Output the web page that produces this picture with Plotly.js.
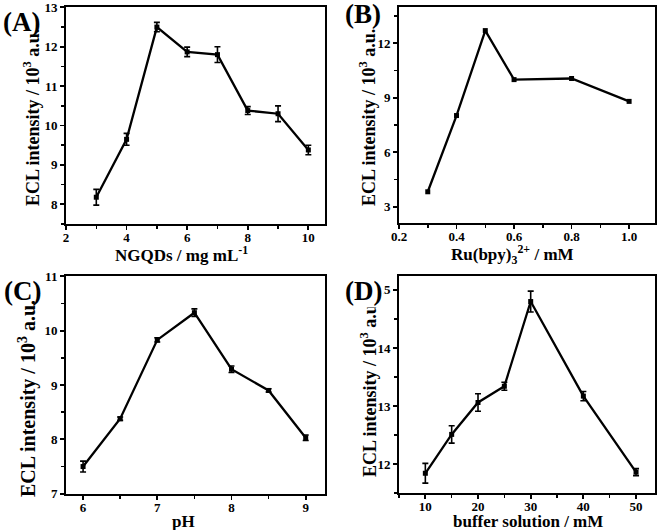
<!DOCTYPE html>
<html>
<head>
<meta charset="utf-8">
<script src="https://cdn.plot.ly/plotly-3.0.1.min.js"></script>
<style>html,body{margin:0;padding:0;background:#fff;}#chart{width:661px;height:530px;}</style>
</head>
<body>
<div id="chart"></div>
<script>
// Panel A: NGQDs concentration
const aX = [3, 4, 5, 6, 7, 8, 9, 10];
const aY = [8.18, 9.65, 12.5, 11.87, 11.8, 10.38, 10.3, 9.38];
const aErr = [0.2, 0.15, 0.12, 0.12, 0.2, 0.1, 0.2, 0.12];
const aYTicks = [8, 9, 10, 11, 12, 13];
// Panel B: Ru(bpy)3 2+ concentration
const bX = [0.3, 0.4, 0.5, 0.6, 0.8, 1.0];
const bY = [3.82, 8.02, 12.7, 10.0, 10.06, 8.8];
// Panel C: pH
const cX = [6, 6.5, 7, 7.5, 8, 8.5, 9];
const cY = [7.5, 8.38, 9.83, 10.33, 9.29, 8.9, 8.03];
const cErr = [0.1, 0.03, 0.04, 0.07, 0.06, 0.03, 0.05];
// Panel D: buffer solution concentration
const dX = [10, 15, 20, 25, 30, 40, 50];
const dY = [11.84, 12.51, 13.06, 13.34, 14.8, 13.17, 11.86];
const dErr = [0.17, 0.15, 0.15, 0.07, 0.18, 0.08, 0.06];

const panelLabels = ['(A)', '(B)', '(C)', '(D)'];
const yTitle = 'ECL intensity / 10<sup>3</sup> a.u.';
const xTitles = ['NGQDs / mg mL<sup>-1</sup>', 'Ru(bpy)<sub>3</sub><sup>2+</sup> / mM', 'pH', 'buffer solution / mM'];

const W = 661, H = 530;
const FONT = 'Liberation Serif, Times New Roman, serif';

function tr(x, y, err, xa, ya) {
  const t = {
    x: x, y: y, xaxis: xa, yaxis: ya, type: 'scatter', mode: 'lines+markers',
    line: {color: '#000', width: 2.3},
    marker: {symbol: 'square', size: 5, color: '#000'},
    showlegend: false, hoverinfo: 'x+y'
  };
  if (err) t.error_y = {type: 'data', array: err, visible: true, color: '#000', thickness: 1.6, width: 3};
  return t;
}

const data = [
  tr(aX, aY, aErr, 'x', 'y'),
  tr(bX, bY, null, 'x2', 'y2'),
  tr(cX, cY, cErr, 'x3', 'y3'),
  tr(dX, dY, dErr, 'x4', 'y4')
];

function px(v) { return v / W; }
function py(v) { return 1 - v / H; }

function base() {
  return {
    showline: true, mirror: true, linecolor: '#000', linewidth: 2,
    ticks: 'outside', ticklen: 4, tickwidth: 1.8, tickcolor: '#000',
    showgrid: false, zeroline: false, ticklabeloverflow: 'allow',
    tickfont: {family: FONT, size: 13, color: '#000', weight: 'bold'}
  };
}
function minorTicks(dt) {
  return {dtick: dt, ticks: 'outside', ticklen: 3, tickwidth: 1.5, tickcolor: '#000', showgrid: false};
}
function xax(d0, d1, anchor, range, dtick, minor, fmt) {
  return Object.assign(base(), {
    domain: [px(d0), px(d1)], anchor: anchor, range: range, dtick: dtick, tick0: 0,
    tickformat: fmt || '', ticklabelstandoff: -4, minor: minorTicks(minor)
  });
}
function yax(d0, d1, anchor, range, dtick, minor) {
  return Object.assign(base(), {
    domain: [py(d1), py(d0)], anchor: anchor, range: range, dtick: dtick, tick0: 0,
    minor: minorTicks(minor)
  });
}

function note(text, x, y, size, angle) {
  return {
    text: text, xref: 'paper', yref: 'paper', x: px(x), y: py(y), showarrow: false,
    xanchor: 'center', yanchor: 'middle', textangle: angle || 0,
    font: {family: FONT, size: size, color: '#000', weight: 'bold'}
  };
}

const annotations = [
  // axis titles
  note(xTitles[0], 181, 254, 17),
  note(xTitles[1], 512, 254, 17),
  note(xTitles[2], 183, 521, 17),
  note(xTitles[3], 528, 521, 17),
  note(yTitle, 32, 118, 18, -90),
  note(yTitle, 368, 118, 18, -90),
  note(yTitle, 27, 399, 20, -90),
  note(yTitle, 368, 389, 18, -90),
  // panel labels
  note(panelLabels[0], 21, 22, 27),
  note(panelLabels[1], 363, 14, 27),
  note(panelLabels[2], 22, 291, 27),
  note(panelLabels[3], 363, 291, 27)
];
// panel D label covers the leading digit of the top tick label, as in the reference
annotations[11].bgcolor = '#fff';
annotations[11].borderpad = 1;

const yA = yax(7, 224, 'x', [7.5, 13.01], 1, 0.5);
yA.tickmode = 'array';
yA.tickvals = aYTicks;
yA.ticktext = aYTicks.map(String);

const layout = {
  width: W, height: H,
  margin: {l: 0, r: 0, t: 0, b: 0},
  paper_bgcolor: '#fff', plot_bgcolor: '#fff',
  font: {family: FONT, color: '#000'},
  xaxis: xax(66, 325, 'y', [2, 10.55], 2, 1),
  yaxis: yA,
  xaxis2: xax(399, 655, 'y2', [0.2, 1.09], 0.2, 0.1, '.1f'),
  yaxis2: yax(7, 223, 'x2', [2.1, 14], 3, 1.5),
  xaxis3: xax(66, 325, 'y3', [5.77, 9.26], 1, 0.5),
  yaxis3: yax(276, 494, 'x3', [6.995, 11.005], 1, 0.5),
  xaxis4: xax(399, 655, 'y4', [5, 53.6], 10, 5),
  yaxis4: yax(276, 493, 'x4', [11.5, 15.24], 1, 0.5),
  annotations: annotations
};

Plotly.newPlot('chart', data, layout, {displayModeBar: false, staticPlot: true});
</script>
</body>
</html>
